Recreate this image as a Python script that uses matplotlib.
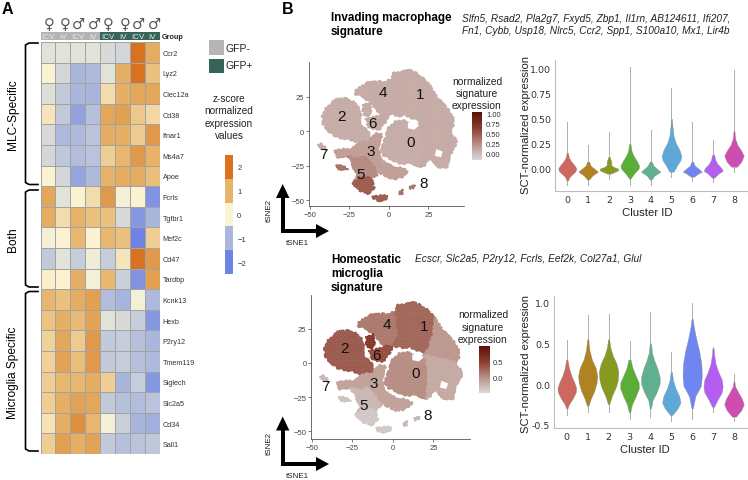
import numpy as np
import matplotlib
matplotlib.use("Agg")
import matplotlib.pyplot as plt
from matplotlib.colors import LinearSegmentedColormap
from matplotlib.patches import Polygon, Rectangle

plt.rcParams['font.family'] = ['Liberation Sans', 'DejaVu Sans']
plt.rcParams['hatch.linewidth'] = 0.3

W, H = 748, 481

# heatmap values
genes = ["Ccr2", "Lyz2", "Clec12a", "Cd38", "Ifnar1", "Ms4a7", "Apoe", "Fcrls", "Tgfbr1", "Mef2c", "Cd47",
         "Tardbp", "Kcnk13", "Hexb", "P2ry12", "Tmem119", "Siglech", "Slc2a5", "Cd34", "Sall1"]
routes = ["ICV", "IV", "ICV", "IV", "ICV", "IV", "ICV", "IV"]
sexes = ["♀", "♀", "♂", "♂", "♀", "♀", "♂", "♂"]
z_scores = [
    [-0.3, -0.3, -0.3, -0.3, -0.45, -0.5, 2.0, 1.1],
    [0.05, -0.5, -1.0, -0.95, -0.3, 1.05, 2.0, 0.8],
    [-0.35, -0.7, -1.0, -1.05, 0.4, 1.05, 1.2, 1.2],
    [0.25, -0.7, -1.4, -0.85, 1.2, 1.3, 0.7, 0.45],
    [-0.45, -0.95, -0.95, -0.8, 1.1, 1.05, 0.65, 1.4],
    [-0.5, -0.75, -0.9, -0.8, 0.6, 0.95, 1.4, 1.0],
    [0.05, -0.5, -1.35, -0.95, 1.0, 1.1, 1.1, 0.85],
    [1.2, -0.3, 0.05, 0.4, 1.4, -0.1, 0.05, -1.7],
    [1.1, 0.4, 1.0, 0.8, 0.8, -0.45, -1.6, -1.0],
    [-0.1, 0.05, 0.95, 0.05, 0.95, 0.8, -2.0, 0.6],
    [-0.7, -0.3, -0.65, -0.15, -0.65, 0.25, 2.1, 1.4],
    [0.1, 0.05, 1.05, -0.1, 0.95, -0.6, -1.7, 1.3],
    [0.95, 0.8, 1.1, 1.3, -0.9, -1.05, -0.1, -0.95],
    [0.75, 1.05, 0.9, 1.25, -0.3, -0.45, -0.65, -1.6],
    [0.55, 1.2, 0.65, 1.4, -0.7, -0.65, -0.85, -1.0],
    [0.55, 1.25, 0.85, 1.4, -0.7, -0.65, -0.85, -0.95],
    [0.6, 0.95, 0.95, 1.1, 0.6, -1.05, -0.65, -1.6],
    [0.6, 1.05, 1.25, 1.2, -0.7, -0.85, -0.9, -0.8],
    [0.3, 1.05, 1.55, 0.95, -0.1, -0.6, -1.05, -1.15],
    [0.6, 1.3, 1.05, 1.25, -0.7, -0.85, -0.8, -0.75],
]

# tSNE region outlines (tSNE1, tSNE2)
c4 = [(-21.5, 27), (-21, 30), (-14, 35), (-2.5, 36), (2, 37), (4, 20), (0, 12.3), (-7.8, 13.5), (-10, 19.6), (-16, 24.4)]
c1 = [(2, 37), (2, 42), (13, 44), (19, 41), (26, 33), (25, 20), (20, 6), (14, 10), (10, 12), (7, 11), (0, 12.3), (4, 20)]
c1r = [(26, 33), (31, 24), (40, 12), (41, 5), (39, 0), (30, 3), (20, 6), (25, 20)]
c0 = [(0, 2.6), (4, 7), (9, 8), (14, 4), (20, 6), (22, -5), (21, -26), (15, -24), (6, -23), (-3, -18), (-5, -15), (-2.5, -6)]
c0r = [(20, 6), (30, 3), (39, 0), (43, -8), (40, -15), (37, -26), (31, -26), (27, -20), (21, -26), (22, -5)]
c2 = [(-42, 11), (-40.5, 16), (-34, 22.7), (-26, 23.7), (-20, 18.8), (-17.3, 11), (-18, 5), (-13, -1), (-12, -7),
      (-18.4, -8.7), (-24.7, -5.8), (-33, -4.6), (-38.4, 0.2), (-41.6, 5)]
c6a = [(-16.7, 18.8), (-12, 20.8), (-11, 14.7), (-13, 11), (-16, 12.3)]
c6b = [(-15, 8.7), (-3.6, 12.3), (-0.4, 11), (-3.6, 3.9), (-6.7, 1), (-13, 2.7)]
c3 = [(-34, -14), (-30, -13), (-23.6, -13), (-18.4, -8.7), (-12, -7), (-9, -2), (-4.6, -2), (-4.6, -6), (-6.7, -13),
      (-5.7, -20), (-1.5, -24), (4.9, -26), (12, -29), (8, -33.6), (2.7, -35), (-2.5, -32), (-7.8, -29), (-12, -23),
      (-16, -18), (-20, -20), (-26, -18), (-33, -19)]
c5 = [(-26, -18), (-20, -20), (-16, -18), (-12, -23), (-7.8, -29), (-7, -31), (-11, -34.5), (-13, -33.6), (-18.8, -33.6),
      (-23, -38.4), (-19.4, -32), (-22.6, -26)]
c5b = [(-23, -38.4), (-18.8, -33.6), (-13, -33.6), (-11, -35), (-9.5, -41), (-12, -45.6), (-18.4, -43)]
c5s = [(-33, -24.6), (-29, -25), (-26, -28), (-29, -28), (-32, -27.5)]
c5t = [(-10.3, -47.3), (-4, -46.5), (-1, -46.5), (-1.5, -49), (-6, -50.5), (-9, -49.5)]
c7 = [(-44.7, -10), (-43, -9), (-40, -12), (-40, -14), (-42.6, -13)]
c8a = [(6.5, -44), (9, -42.5), (9, -45), (7, -46.5)]
c8b = [(13, -40.5), (16.5, -39), (16, -41), (13.5, -42)]
regions = [c4, c1, c1r, c0, c0r, c2, c6a, c6b, c3, c5, c5b, c5s, c5t, c7, c8a, c8b]
holes = [[(12, 6), (17, 7), (19, 4), (16, 1), (12, 2)], [(30, -13), (34, -15), (33, -19), (29, -18)],
         [(-20, 22), (-18, 21), (-16, 23), (-18, 25)]]

# signature level of each region, same order as regions
invading_levels = [0.1, 0.1, 0.1, 0.09, 0.1, 0.09, 0.1, 0.11, 0.17, 0.27, 0.5, 0.39, 0.5, 0.1, 0.39, 0.39]
homeostatic_levels = [0.16, 0.27, -0.03, 0.04, -0.15, 0.34, 0.56, 0.41, -0.1, -0.25, -0.35, -0.32, -0.35, -0.25, -0.25, -0.25]

cluster_ids = ["0", "1", "2", "3", "4", "5", "6", "7", "8"]
cluster_label_x = [14, 19.6, -30, -11.6, -3.6, -18, -10.3, -41.5, 21.7]
cluster_label_y = [-7.7, 26.8, 11, -14.5, 28, -31, 5.5, -16.7, -38]

violin_colors = ["#cd6860", "#b18220", "#88991f", "#5aad35", "#60b090", "#5ea8d8", "#6f86f0", "#b45df0", "#cf4db0"]

# violin outlines as (expression, half width)
invading_violins = [
    [(-0.16, 0), (-0.12, 0.03), (-0.08, 0.12), (-0.03, 0.38), (0.0, 0.44), (0.03, 0.36), (0.07, 0.2), (0.11, 0.08), (0.16, 0.03), (0.47, 0)],
    [(-0.16, 0), (-0.11, 0.04), (-0.07, 0.2), (-0.03, 0.47), (0.0, 0.3), (0.03, 0.12), (0.07, 0.05), (0.12, 0.015), (0.24, 0)],
    [(-0.1, 0), (-0.05, 0.08), (-0.02, 0.42), (0.0, 0.45), (0.02, 0.2), (0.04, 0.1), (0.06, 0.12), (0.09, 0.08), (0.12, 0.03), (0.2, 0.01), (0.37, 0)],
    [(-0.16, 0), (-0.1, 0.03), (-0.05, 0.2), (0.0, 0.42), (0.03, 0.45), (0.08, 0.33), (0.13, 0.18), (0.18, 0.08), (0.25, 0.03), (0.4, 0.008), (1.02, 0)],
    [(-0.16, 0), (-0.11, 0.04), (-0.07, 0.18), (-0.03, 0.47), (0.0, 0.3), (0.03, 0.14), (0.07, 0.05), (0.13, 0.015), (0.39, 0)],
    [(-0.08, 0), (-0.03, 0.1), (0.03, 0.26), (0.09, 0.44), (0.13, 0.47), (0.19, 0.38), (0.26, 0.2), (0.33, 0.1), (0.42, 0.05), (0.5, 0.02), (0.81, 0)],
    [(-0.12, 0), (-0.08, 0.08), (-0.05, 0.28), (-0.03, 0.46), (0.0, 0.3), (0.03, 0.12), (0.07, 0.04), (0.15, 0.01), (0.47, 0)],
    [(-0.13, 0), (-0.09, 0.06), (-0.05, 0.25), (-0.02, 0.46), (0.01, 0.38), (0.05, 0.2), (0.09, 0.1), (0.14, 0.05), (0.2, 0.015), (0.29, 0)],
    [(-0.03, 0), (0.02, 0.14), (0.07, 0.35), (0.13, 0.47), (0.18, 0.35), (0.24, 0.16), (0.3, 0.06), (0.38, 0.02), (0.55, 0.008), (0.99, 0)],
]
homeostatic_violins = [
    [(-0.38, 0), (-0.3, 0.03), (-0.25, 0.1), (-0.18, 0.28), (-0.1, 0.43), (-0.05, 0.45), (0.02, 0.36), (0.1, 0.22), (0.2, 0.1), (0.3, 0.03), (0.54, 0)],
    [(-0.35, 0), (-0.27, 0.03), (-0.18, 0.15), (-0.08, 0.32), (0.02, 0.43), (0.1, 0.46), (0.2, 0.38), (0.3, 0.2), (0.42, 0.08), (0.55, 0.03), (0.85, 0)],
    [(-0.35, 0), (-0.25, 0.03), (-0.15, 0.15), (-0.03, 0.36), (0.05, 0.44), (0.15, 0.47), (0.25, 0.38), (0.35, 0.2), (0.45, 0.08), (0.55, 0.03), (0.86, 0)],
    [(-0.43, 0), (-0.35, 0.03), (-0.25, 0.12), (-0.15, 0.3), (-0.05, 0.45), (0.02, 0.44), (0.1, 0.3), (0.2, 0.14), (0.3, 0.05), (0.53, 0)],
    [(-0.4, 0), (-0.3, 0.03), (-0.2, 0.1), (-0.1, 0.3), (0.0, 0.44), (0.08, 0.45), (0.18, 0.35), (0.28, 0.2), (0.38, 0.08), (0.5, 0.03), (0.88, 0)],
    [(-0.46, 0), (-0.38, 0.06), (-0.3, 0.3), (-0.23, 0.44), (-0.15, 0.38), (-0.05, 0.2), (0.05, 0.08), (0.15, 0.03), (0.39, 0)],
    [(-0.43, 0), (-0.3, 0.03), (-0.15, 0.15), (-0.02, 0.42), (0.1, 0.46), (0.25, 0.44), (0.4, 0.34), (0.55, 0.2), (0.7, 0.08), (0.8, 0.03), (1.0, 0)],
    [(-0.35, 0), (-0.28, 0.05), (-0.2, 0.2), (-0.1, 0.42), (-0.03, 0.46), (0.05, 0.42), (0.15, 0.25), (0.25, 0.12), (0.35, 0.06), (0.44, 0.03), (0.45, 0)],
    [(-0.46, 0), (-0.4, 0.1), (-0.32, 0.35), (-0.25, 0.47), (-0.18, 0.38), (-0.1, 0.2), (-0.03, 0.06), (0.03, 0.02), (0.12, 0)],
]

heat_cmap = LinearSegmentedColormap.from_list("heat", ["#6f84e2", "#aab7dc", "#fbf6d6", "#e6b46a", "#d8721e"])
expr_cmap = LinearSegmentedColormap.from_list("expr", ["#d8d8d8", "#b98f86", "#8b3d2e", "#5c0f0a"])


def px_axes(x0, y0, x1, y1):
    # axes from pixel box, y measured from the top
    return fig.add_axes([x0 / W, 1 - y1 / H, (x1 - x0) / W, (y1 - y0) / H])


fig = plt.figure(figsize=(W / 100, H / 100), dpi=100)

# overlay in pixel coordinates for the loose text and brackets
ov = fig.add_axes([0, 0, 1, 1], zorder=5)
ov.set_xlim(0, W)
ov.set_ylim(H, 0)
ov.axis("off")
ov.patch.set_alpha(0)

# heatmap
ax = px_axes(40.5, 43, 160, 455)
ax.pcolormesh(np.array(z_scores), cmap=heat_cmap, vmin=-2, vmax=2, edgecolors="#a3a3a3", linewidth=0.6)
ax.set_ylim(len(genes), 0)
ax.set_xticks([])
ax.set_yticks(np.arange(len(genes)) + 0.5)
ax.set_yticklabels(genes, fontsize=5.2, color="#333333")
ax.yaxis.tick_right()
ax.tick_params(length=0, pad=2)
for s in ax.spines.values():
    s.set_visible(False)

# group bar and sex symbols
ax_g = px_axes(40.5, 33.3, 160, 41)
ax_g.set_xlim(0, 8)
ax_g.set_ylim(0, 1)
ax_g.axis("off")
sex_x = [49, 65, 78, 94, 108, 125, 138, 154]
for i, route in enumerate(routes):
    ax_g.add_patch(Rectangle((i, 0), 1, 1, color="#b3b3b3" if i < 4 else "#356459", lw=0))
    ax_g.text(i + 0.5, 0.45, route, color="#e8e8e8", fontsize=5.8, ha="center", va="center")
    ov.text(sex_x[i], 24, sexes[i], fontsize=10.5, ha="center", va="center", color="#555555", family="DejaVu Sans")
ov.text(162, 37.5, "Group", fontsize=5.2, fontweight="bold", va="center", color="#222222")

# group legend
ov.add_patch(Rectangle((209.5, 41), 14.5, 14.5, color="#b5b5b5", lw=0))
ov.add_patch(Rectangle((209.5, 60), 14.5, 13.5, color="#356459", lw=0))
ov.text(226, 48.5, "GFP-", fontsize=7.5, va="center", color="#222222")
ov.text(226, 66, "GFP+", fontsize=7.5, va="center", color="#222222")
for y, t in zip([99, 111, 124, 136], ["z-score", "normalized", "expression", "values"]):
    ov.text(229, y, t, fontsize=7.2, ha="center", va="center", color="#222222")

# stepped z-score key
ax_k = px_axes(225, 156, 233, 275)
ax_k.imshow(np.array([[2], [1], [0], [-1], [-2]]), aspect="auto", cmap=heat_cmap, vmin=-2, vmax=2,
            extent=[0, 1, -2.5, 2.5])
ax_k.set_xticks([])
ax_k.yaxis.tick_right()
ax_k.set_yticks([2, 1, 0, -1, -2])
ax_k.set_yticklabels(["2", "1", "0", "−1", "−2"], fontsize=5.5, color="#333333")
ax_k.tick_params(length=0, pad=3)
for s in ax_k.spines.values():
    s.set_visible(False)

# brackets and group names
for y0, y1 in [(44, 185.5), (191, 288), (292.5, 452)]:
    ov.plot([38, 29, 25.5, 25.5, 29, 38], [y0, y0, y0 + 2, y1 - 2, y1, y1], color="black", lw=1.2)
ov.text(13, 115, "MLC-Specific", rotation=90, fontsize=8.6, ha="center", va="center")
ov.text(13, 240, "Both", rotation=90, fontsize=8.6, ha="center", va="center")
ov.text(13, 372.5, "Microglia Specific", rotation=90, fontsize=8.6, ha="center", va="center")
ov.text(2, 9, "A", fontsize=11.5, fontweight="bold", va="center")
ov.text(282, 9, "B", fontsize=11.5, fontweight="bold", va="center")

# titles and gene lists
ov.text(331, 18.5, "Invading macrophage", fontsize=8.4, fontweight="bold", va="center")
ov.text(331, 32.5, "signature", fontsize=8.4, fontweight="bold", va="center")
ov.text(462, 18.5, "Slfn5, Rsad2, Pla2g7, Fxyd5, Zbp1, Il1rn, AB124611, Ifi207,", fontsize=7.25, style="italic", va="center", color="#222222")
ov.text(462, 30.5, "Fn1, Cybb, Usp18, Nlrc5, Ccr2, Spp1, S100a10, Mx1, Lir4b", fontsize=7.25, style="italic", va="center", color="#222222")
ov.text(331, 260, "Homeostatic", fontsize=8.4, fontweight="bold", va="center")
ov.text(331, 274, "microglia", fontsize=8.4, fontweight="bold", va="center")
ov.text(331, 288, "signature", fontsize=8.4, fontweight="bold", va="center")
ov.text(415, 259.5, "Ecscr, Slc2a5, P2ry12, Fcrls, Eef2k, Col27a1, Glul", fontsize=7.25, style="italic", va="center", color="#222222")


def draw_tsne(box, xlim, ylim, levels, vmin, vmax):
    a = px_axes(*box)
    a.set_xlim(*xlim)
    a.set_ylim(*ylim)
    for poly, level in zip(regions, levels):
        col = expr_cmap((level - vmin) / (vmax - vmin))
        p = Polygon(poly, closed=True, facecolor=col, edgecolor=col, lw=1.2, joinstyle="round")
        p.set_sketch_params(scale=1.0, length=5, randomness=10)
        a.add_patch(p)
        # faint speckle over the region
        a.add_patch(Polygon(poly, closed=True, facecolor="none", edgecolor=(1, 1, 1, 0.16), lw=0, hatch="........"))
    for poly in holes:
        a.add_patch(Polygon(poly, closed=True, facecolor="white", edgecolor="none"))
    for cid, x, y in zip(cluster_ids, cluster_label_x, cluster_label_y):
        a.text(x, y, cid, fontsize=11, ha="center", va="center", color="#111111")
    a.set_xticks([-50, -25, 0, 25])
    a.set_yticks([-50, -25, 0, 25])
    a.tick_params(labelsize=5.5, length=2, width=0.5, pad=1.5, colors="#444444")
    a.spines["top"].set_visible(False)
    a.spines["right"].set_visible(False)
    a.spines["left"].set_color("#555555")
    a.spines["bottom"].set_color("#555555")
    a.spines["left"].set_linewidth(0.6)
    a.spines["bottom"].set_linewidth(0.6)
    return a


draw_tsne((309, 63, 464, 207), (-50.6, 47.5), (-54.3, 50), invading_levels, -0.15, 1.04)
draw_tsne((311.3, 296, 470, 440), (-50.3, 47.6), (-55.5, 49.5), homeostatic_levels, -0.47, 1.0)


def draw_cbar(box, vmin, vmax, ticks, labels):
    a = px_axes(*box)
    grad = np.linspace(vmax, vmin, 100).reshape(-1, 1)
    a.imshow(grad, aspect="auto", cmap=expr_cmap, extent=[0, 1, vmin, vmax], vmin=vmin, vmax=vmax)
    a.set_xticks([])
    a.yaxis.tick_right()
    a.set_yticks(ticks)
    a.set_yticklabels(labels, fontsize=5.5, color="#333333")
    a.tick_params(length=0, pad=3)
    for s in a.spines.values():
        s.set_visible(False)


draw_cbar((472, 113, 482, 161), -0.15, 1.04, [0, 0.25, 0.5, 0.75, 1.0], ["0.00", "0.25", "0.50", "0.75", "1.00"])
draw_cbar((479, 347, 489, 394), -0.47, 1.0, [0, 0.5], ["0.0", "0.5"])

for x, ys in [(477, (82, 94, 106)), (483, (315, 328, 340))]:
    for y, t in zip(ys, ["normalized", "signature", "expression"]):
        ov.text(x, y, t, fontsize=7.4, ha="center", va="center", color="#222222")

# tSNE axis arrows
for tip_y, corner_y, label_y, label2_y in [(185, 232, 244, 210), (417.5, 465, 477, 443)]:
    ov.add_patch(Rectangle((280.7, tip_y + 13), 4, corner_y + 2 - tip_y - 13, color="black", lw=0))
    ov.add_patch(Polygon([(276, tip_y + 14), (282.7, tip_y), (289.4, tip_y + 14)], color="black", lw=0))
    ov.add_patch(Rectangle((280.7, corner_y - 2), 36, 4, color="black", lw=0))
    ov.add_patch(Polygon([(316, corner_y - 7), (329, corner_y), (316, corner_y + 7)], color="black", lw=0))
    ov.text(297, label_y, "tSNE1", fontsize=5.8, ha="center", va="center", color="#222222")
    ov.text(269, label2_y, "tSNE2", fontsize=5.8, rotation=90, ha="center", va="center", color="#222222")


def draw_violins(box, xlim, ylim, violins, yticks, ylabels):
    a = px_axes(*box)
    a.set_xlim(*xlim)
    a.set_ylim(*ylim)
    for i, prof in enumerate(violins):
        y = np.array([p[0] for p in prof])
        w = np.array([p[1] for p in prof])
        a.plot([i, i], [y[0], y[-1]], color="#9a9a9a", lw=0.7, alpha=0.8, zorder=1)
        body = w >= 0.02
        a.fill_betweenx(y[body], i - w[body], i + w[body], color=violin_colors[i], edgecolor="#8a8a8a", lw=0.25, zorder=2)
    a.set_xticks(range(9))
    a.set_xticklabels(cluster_ids)
    a.set_yticks(yticks)
    a.set_yticklabels(ylabels)
    a.tick_params(labelsize=6.8, length=0, pad=3, colors="#333333")
    for lab in a.get_xticklabels() + a.get_yticklabels():
        lab.set_family("DejaVu Sans")
    a.spines["top"].set_visible(False)
    a.spines["right"].set_visible(False)
    a.spines["left"].set_color("#bdbdbd")
    a.spines["bottom"].set_color("#bdbdbd")
    return a


draw_violins((555.3, 61, 746.7, 192), (-0.576, 8.61), (-0.224, 1.09), invading_violins,
             [0, 0.25, 0.5, 0.75, 1.0], ["0.00", "0.25", "0.50", "0.75", "1.00"])
draw_violins((554.3, 297.3, 746.7, 428.7), (-0.6, 8.61), (-0.537, 1.079), homeostatic_violins,
             [-0.5, 0, 0.5, 1.0], ["-0.5", "0.0", "0.5", "1.0"])

ov.text(647, 213, "Cluster ID", fontsize=8.2, ha="center", va="center", color="#222222")
ov.text(645, 450, "Cluster ID", fontsize=8, ha="center", va="center", color="#222222")
ov.text(526, 125, "SCT-normalized expression", fontsize=8.1, rotation=90, ha="center", va="center", color="#222222")
ov.text(526, 364, "SCT-normalized expression", fontsize=8.1, rotation=90, ha="center", va="center", color="#222222")

fig.savefig("out.png", dpi=100)
